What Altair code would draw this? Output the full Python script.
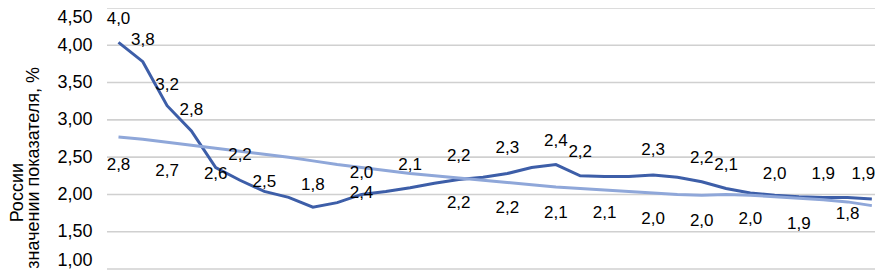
import altair as alt
import pandas as pd

# ---- data ----
positions = list(range(32))
dark_values = [4.04, 3.78, 3.19, 2.85, 2.36, 2.19, 2.04, 1.96, 1.83, 1.89, 2.00, 2.04,
               2.09, 2.15, 2.20, 2.23, 2.28, 2.36, 2.40, 2.25, 2.24, 2.24, 2.26, 2.23,
               2.17, 2.08, 2.02, 1.99, 1.97, 1.96, 1.96, 1.94]
light_values = [2.77, 2.74, 2.70, 2.66, 2.62, 2.58, 2.54, 2.50, 2.45, 2.40, 2.36, 2.32,
                2.28, 2.25, 2.22, 2.19, 2.16, 2.13, 2.10, 2.08, 2.06, 2.04, 2.02, 2.00,
                1.99, 2.00, 1.99, 1.97, 1.95, 1.93, 1.90, 1.85]

# data labels of the dark series: position, anchor value, text
dark_label_pos = [0, 1, 2, 3, 5, 8, 10, 12, 14, 16, 18, 19, 22, 24, 25, 27, 29, 30.65]
dark_label_anchor = [4.35, 4.07, 3.47, 3.13, 2.53, 2.13, 2.29, 2.40, 2.51, 2.62, 2.72,
                     2.57, 2.59, 2.49, 2.39, 2.27, 2.27, 2.27]
dark_label_text = ["4,0", "3,8", "3,2", "2,8", "2,2", "1,8", "2,0", "2,1", "2,2", "2,3",
                   "2,4", "2,2", "2,3", "2,2", "2,1", "2,0", "1,9", "1,9"]

# data labels of the light series
light_label_pos = [0, 2, 4, 6, 10, 14, 16, 18, 20, 22, 24, 26, 28, 30]
light_label_anchor = [2.39, 2.32, 2.27, 2.17, 2.02, 1.89, 1.82, 1.75, 1.75, 1.67, 1.65,
                      1.67, 1.61, 1.74]
light_label_text = ["2,8", "2,7", "2,6", "2,5", "2,4", "2,2", "2,2", "2,1", "2,1", "2,0",
                    "2,0", "2,0", "1,9", "1,8"]

y_ticks = [1.0, 1.5, 2.0, 2.5, 3.0, 3.5, 4.0, 4.5]
title_line1 = "России"
title_line2 = "значении показателя, %"

series_names = ["Показатель", "Сглаженный"]
series_colors = ["#3d5ea8", "#8fa7d9"]

# ---- tables ----
lines_df = pd.DataFrame({
    "pos": positions * 2,
    "value": dark_values + light_values,
    "series": [series_names[0]] * 32 + [series_names[1]] * 32,
})
labels_df = pd.DataFrame({
    "pos": dark_label_pos + light_label_pos,
    "value": dark_label_anchor + light_label_anchor,
    "text": dark_label_text + light_label_text,
})
grid_df = pd.DataFrame({"value": y_ticks})
one_row = pd.DataFrame({"k": [0]})

FONT = "Liberation Sans"
xscale = alt.Scale(domain=[-0.473, 31.13], nice=False, zero=False)
yscale = alt.Scale(domain=[1.0, 4.5], nice=False, zero=False)

yaxis = alt.Axis(values=y_ticks, grid=False, domain=False, ticks=False, labelPadding=15,
                 labelFontSize=18, labelFont=FONT, labelColor="#000000", labelOverlap=False,
                 labelExpr="replace(format(datum.value, '.2f'), '.', ',')",
                 labelBaseline={"condition": [
                     {"test": "datum.value >= 4.4", "value": "top"},
                     {"test": "datum.value <= 1.1", "value": "bottom"}],
                     "value": "middle"},
                 title=None)

grid = alt.Chart(grid_df).mark_rule(color="#d0d0d0", strokeWidth=1.6).encode(
    y=alt.Y("value:Q", scale=yscale, axis=yaxis),
    x=alt.value(0), x2=alt.value(768),
)

lines = alt.Chart(lines_df).mark_line(strokeWidth=3, interpolate="linear").encode(
    x=alt.X("pos:Q", scale=xscale, axis=None),
    y=alt.Y("value:Q", scale=yscale, axis=yaxis),
    color=alt.Color("series:N", scale=alt.Scale(domain=series_names, range=series_colors),
                    legend=None),
    order=alt.Order("pos:Q"),
)

labels = alt.Chart(labels_df).mark_text(fontSize=17, font=FONT, color="#000000",
                                        align="center", baseline="middle").encode(
    x=alt.X("pos:Q", scale=xscale, axis=None),
    y=alt.Y("value:Q", scale=yscale, axis=yaxis),
    text="text:N",
)

t1 = alt.Chart(one_row).mark_text(fontSize=18, font=FONT, color="#000000", angle=270,
                                  align="right", baseline="alphabetic").encode(
    x=alt.value(-84), y=alt.value(155), text=alt.value(title_line1))
t2 = alt.Chart(one_row).mark_text(fontSize=18, font=FONT, color="#000000", angle=270,
                                  align="right", baseline="alphabetic").encode(
    x=alt.value(-68), y=alt.value(59), text=alt.value(title_line2))

chart = alt.layer(grid, lines, labels, t1, t2).properties(
    width=768, height=261,
    autosize=alt.AutoSizeParams(type="none"),
    padding={"left": 99, "top": 0, "right": 0, "bottom": 1},
).configure_view(stroke=None)

chart.save("out.html", embed_options={"renderer": "svg", "actions": False})
